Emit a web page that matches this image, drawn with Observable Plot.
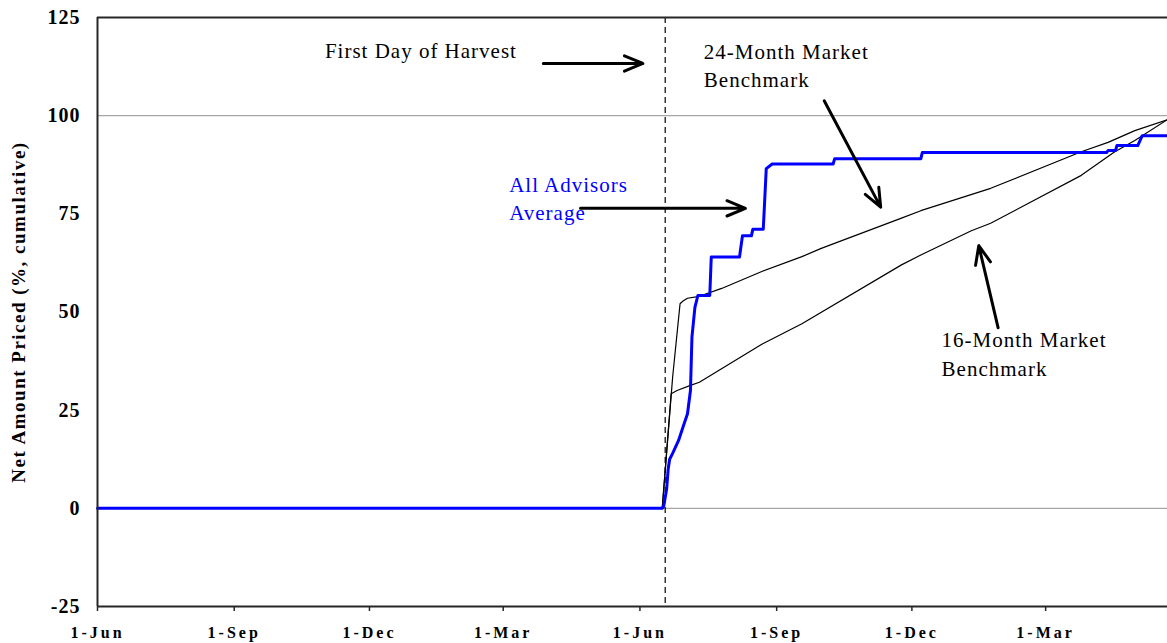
<!DOCTYPE html>
<html><head><meta charset="utf-8">
<script src="https://cdn.jsdelivr.net/npm/d3@7"></script>
<script src="https://cdn.jsdelivr.net/npm/@observablehq/plot@0.6"></script>
<style>
body{margin:0;background:#fff;}
#chart svg{display:block;}
.xticks text{letter-spacing:3px;}
.yticks text{letter-spacing:1px;}
.ytitle text{letter-spacing:1.5px;}
.notes text{letter-spacing:1px;}
</style></head><body><div id="chart"></div>
<script>
// ---- axis definitions ----
const xStart = "2001-06-01";
const xEnd = "2003-05-22";
const harvestDate = "2002-06-18";
const tickDates = ["2001-06-01","2001-09-01","2001-12-01","2002-03-01","2002-06-01","2002-09-01","2002-12-01","2003-03-01"];
const tickLabels = ["1-Jun","1-Sep","1-Dec","1-Mar","1-Jun","1-Sep","1-Dec","1-Mar"];
const yTicks = [-25, 0, 25, 50, 75, 100, 125];
const gridValues = [0, 100];
const yTitle = "Net Amount Priced (%, cumulative)";

// ---- series: All Advisors Average ----
const advisorDates = ["2001-06-01","2002-06-16","2002-06-17","2002-06-19","2002-06-20","2002-06-21","2002-06-23","2002-06-27","2002-06-30","2002-07-03","2002-07-05","2002-07-06","2002-07-08","2002-07-10","2002-07-18","2002-07-19","2002-08-07","2002-08-09","2002-08-15","2002-08-16","2002-08-23","2002-08-25","2002-08-29","2002-10-09","2002-10-10","2002-12-07","2002-12-08","2003-04-11","2003-04-12","2003-04-17","2003-04-18","2003-05-02","2003-05-05","2003-05-22"];
const advisorValues = [0,0,0.5,5,10,12.5,14,17.3,20.7,24.1,30,43.6,51.2,54.2,54.2,64.0,64.0,69.4,69.4,71.1,71.1,86.5,87.7,87.7,89.0,89.0,90.6,90.6,91.1,91.1,92.4,92.4,94.9,94.9];

// ---- series: 24-Month Market Benchmark ----
const bench24Dates = ["2001-06-01","2002-06-16","2002-06-23","2002-06-28","2002-06-30","2002-07-03","2002-07-11","2002-07-26","2002-08-22","2002-09-18","2002-10-01","2002-11-24","2002-12-07","2003-01-23","2003-03-25","2003-04-12","2003-04-30","2003-05-22"];
const bench24Values = [0,0,33.4,52.1,52.8,53.5,54.0,56.0,60.3,64.1,66.2,73.9,75.8,81.5,90.8,93.2,96.2,99.0];

// ---- series: 16-Month Market Benchmark ----
const bench16Dates = ["2001-06-01","2002-06-16","2002-06-22","2002-06-26","2002-07-05","2002-07-11","2002-08-22","2002-09-18","2002-11-24","2002-12-07","2003-01-10","2003-01-23","2003-03-25","2003-04-16","2003-04-30","2003-05-22"];
const bench16Values = [0,0,29.2,30.0,31.3,32.1,41.8,47.0,62.0,64.5,70.7,72.6,84.8,90.7,93.7,99.0];

// ---- annotations ----
const noteTexts = ["First Day of Harvest","24-Month Market","Benchmark","16-Month Market","Benchmark","All Advisors","Average"];
const noteDates = ["2001-11-01","2002-07-14","2002-07-14","2002-12-21","2002-12-21","2002-03-05","2002-03-05"];
const noteValues = [116.3,116.1,108.9,42.7,35.4,82.2,75.1];
const noteColors = ["black","black","black","black","black","#0000ff","#0000ff"];

const arrowFromDates = ["2002-03-28","2002-04-22","2002-10-03","2003-01-28"];
const arrowFromValues = [113.3,76.4,103.8,46.0];
const arrowToDates = ["2002-06-03","2002-08-11","2002-11-10","2003-01-15"];
const arrowToValues = [113.3,76.4,76.7,66.9];

// ---- build tables ----
const D = s => new Date(s + "T00:00:00Z");
const toRows = (dates, values) => dates.map((d, i) => ({date: D(d), value: values[i]}));
const advisors = toRows(advisorDates, advisorValues);
const bench24 = toRows(bench24Dates, bench24Values);
const bench16 = toRows(bench16Dates, bench16Values);
const notes = noteTexts.map((t, i) => ({text: t, date: D(noteDates[i]), value: noteValues[i], color: noteColors[i]}));
const arrows = arrowFromDates.map((d, i) => ({x1: D(d), y1: arrowFromValues[i], x2: D(arrowToDates[i]), y2: arrowToValues[i]}));
const labelMap = new Map(tickDates.map((d, i) => [+D(d), tickLabels[i]]));

const serif = "'Liberation Serif', 'Times New Roman', Times, serif";

const chart = Plot.plot({
  width: 1167,
  height: 643,
  marginLeft: 97,
  marginRight: 0,
  marginTop: 17,
  marginBottom: 37,
  style: {fontFamily: serif, background: "white", color: "black", overflow: "visible"},
  x: {type: "utc", domain: [D(xStart), D(xEnd)]},
  y: {domain: [-25, 125]},
  marks: [
    Plot.ruleY(gridValues, {stroke: "#a6a6a6", strokeWidth: 1.3}),
    Plot.ruleX([D(harvestDate)], {stroke: "black", strokeWidth: 1.2, strokeDasharray: "6,4"}),
    Plot.line(bench24, {x: "date", y: "value", stroke: "black", strokeWidth: 1.2}),
    Plot.line(bench16, {x: "date", y: "value", stroke: "black", strokeWidth: 1.2}),
    Plot.line(advisors, {x: "date", y: "value", stroke: "#0000ff", strokeWidth: 3}),
    Plot.ruleY([-25, 125], {stroke: "#262626", strokeWidth: 2}),
    Plot.ruleX([D(xStart)], {stroke: "#262626", strokeWidth: 2}),
    Plot.axisX({ticks: tickDates.map(D), tickFormat: d => labelMap.get(+d), tickSize: 5, tickPadding: 15, fontSize: 16, fontWeight: "bold", label: null, stroke: "#262626", strokeWidth: 1.5}),
    Plot.axisY({ticks: yTicks, tickFormat: d => String(d), tickSize: 0, tickPadding: 17, fontSize: 20, fontWeight: "bold", label: null}),
    Plot.text([yTitle], {text: d => d, frameAnchor: "left", textAnchor: "middle", rotate: -90, dx: -79, fontSize: 19, fontWeight: "bold"}),
    Plot.text(notes, {x: "date", y: "value", text: "text", fill: "color", textAnchor: "start", fontSize: 21}),
    Plot.arrow(arrows, {x1: "x1", y1: "y1", x2: "x2", y2: "y2", stroke: "black", strokeWidth: 3, headLength: 10, headAngle: 45})
  ]
});
d3.select(chart).select('g[aria-label="x-axis tick label"]').classed("xticks", true);
d3.select(chart).select('g[aria-label="y-axis tick label"]').classed("yticks", true);
const textGroups = d3.select(chart).selectAll('g[aria-label="text"]').nodes();
if (textGroups[0]) d3.select(textGroups[0]).classed("ytitle", true);
if (textGroups[1]) d3.select(textGroups[1]).classed("notes", true);
document.getElementById("chart").appendChild(chart);
</script>
</body></html>
